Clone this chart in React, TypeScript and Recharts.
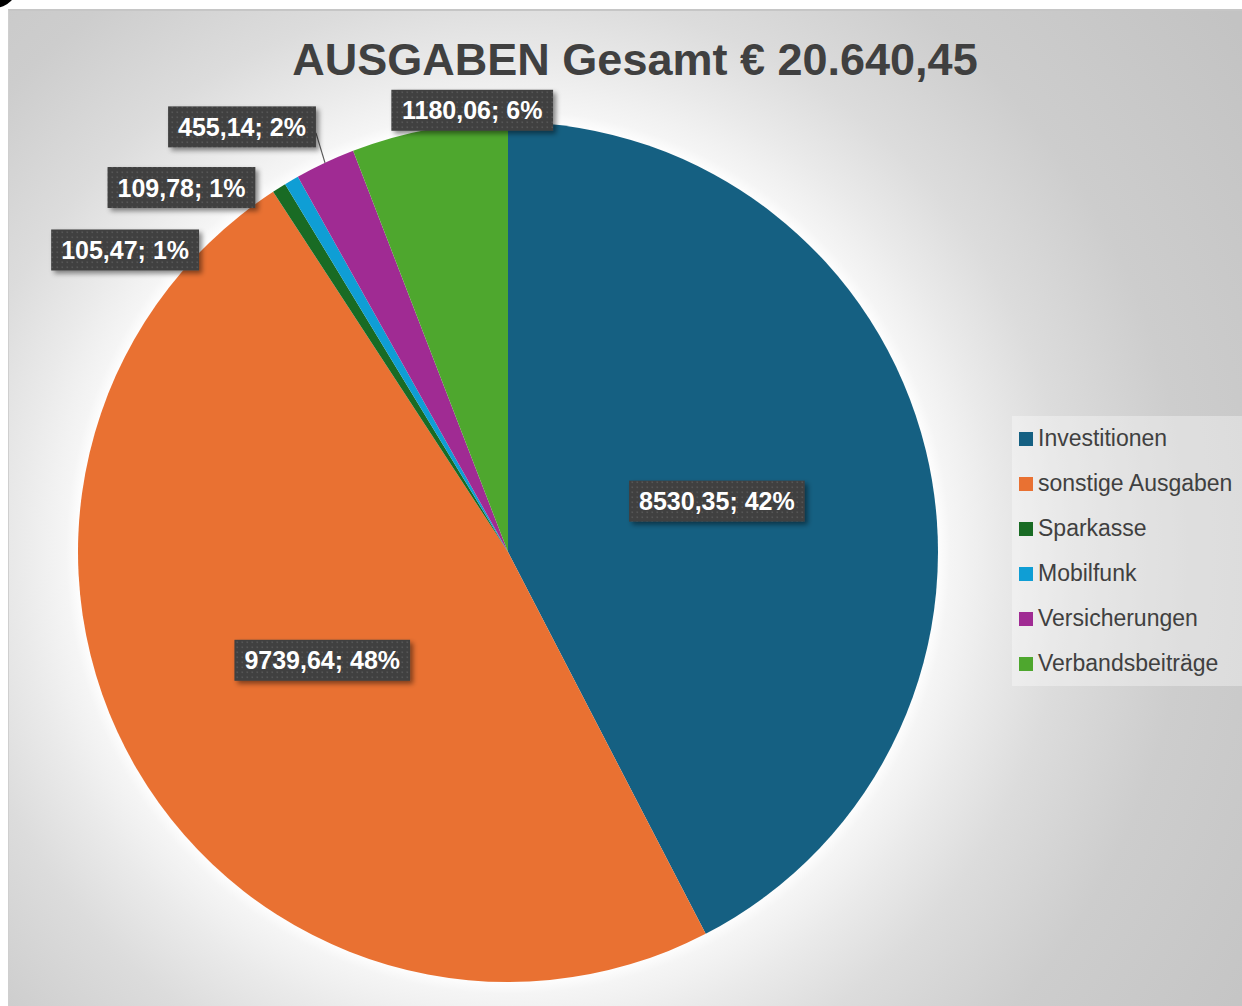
import React from 'react';
import { PieChart, Pie, Cell, Legend } from 'recharts';

const title = 'AUSGABEN Gesamt € 20.640,45';
const categories = ['Investitionen', 'sonstige Ausgaben', 'Sparkasse', 'Mobilfunk', 'Versicherungen', 'Verbandsbeiträge'];
const amounts = [8530.35, 9739.64, 105.47, 109.78, 455.14, 1180.06];
const colors = ['#156082', '#E97132', '#196B24', '#0F9ED5', '#A02B93', '#4EA72E'];

// label placement (styling): inside at fraction of radius, or offset from slice edge
const labelPlacement: any[] = [
  { inside: 0.5 },
  { inside: 0.5 },
  { dx: -154, dy: 62 },
  { dx: -110, dy: 7 },
  { dx: -83, dy: -36, leader: true },
  { dx: 43, dy: -19 },
];

const total = amounts.reduce((a, b) => a + b, 0);
const data = categories.map((name, i) => ({ name, value: amounts[i], fill: colors[i] }));

const LABEL_FONT = 25;
const charW = (c: string) => {
  if (/[0-9]/.test(c)) return 0.556;
  if (c === ',' || c === '.' || c === ' ') return 0.278;
  if (c === ';') return 0.333;
  if (c === '%') return 0.889;
  return 0.6;
};
const textWidth = (t: string) => t.split('').reduce((s, c) => s + charW(c), 0) * LABEL_FONT;

const renderLabel = (props: any) => {
  const { cx, cy, midAngle, outerRadius, index } = props;
  const RAD = Math.PI / 180;
  const p = labelPlacement[index];
  const cos = Math.cos(-midAngle * RAD);
  const sin = Math.sin(-midAngle * RAD);
  const ex = cx + outerRadius * cos;
  const ey = cy + outerRadius * sin;
  let x: number, y: number;
  if (p.inside) {
    x = cx + outerRadius * p.inside * cos;
    y = cy + outerRadius * p.inside * sin;
  } else {
    x = ex + p.dx;
    y = ey + p.dy;
  }
  const pct = Math.round((amounts[index] / total) * 100);
  const text = `${amounts[index].toFixed(2).replace('.', ',')}; ${pct}%`;
  const w = textWidth(text) + 20;
  const h = 41;
  const pid = `dots-${index}`;
  const fid = `shadow-${index}`;
  return (
    <g key={`lbl-${index}`}>
      <defs>
        <pattern id={pid} width="5" height="5" patternUnits="userSpaceOnUse">
          <rect width="5" height="5" fill="#404040" />
          <rect x="1.5" y="1.5" width="1.6" height="1.6" fill="#565656" />
        </pattern>
        <filter id={fid} x="-20%" y="-40%" width="150%" height="200%">
          <feDropShadow dx="3" dy="3" stdDeviation="2.5" floodColor="#000" floodOpacity="0.45" />
        </filter>
      </defs>
      {p.leader && (
        <line x1={ex} y1={ey} x2={x + w / 2} y2={y + 6} stroke="#5a5a5a" strokeWidth={1.2} />
      )}
      <rect x={x - w / 2} y={y - h / 2} width={w} height={h} fill={`url(#${pid})`} filter={`url(#${fid})`} />
      <text
        x={x}
        y={y + 9}
        textAnchor="middle"
        fill="#ffffff"
        fontFamily="'Liberation Sans', Arial, sans-serif"
        fontWeight="bold"
        fontSize={LABEL_FONT}
      >
        {text}
      </text>
    </g>
  );
};

const renderLegend = (props: any) => {
  const payload = [...(props.payload || [])].sort(
    (a: any, b: any) => categories.indexOf(a.value) - categories.indexOf(b.value)
  );
  return (
    <div
      style={{
        background: 'rgba(255,255,255,0.35)',
        paddingLeft: 7,
        boxSizing: 'border-box',
        height: 270,
      }}
    >
      {payload.map((entry: any, i: number) => (
        <div
          key={`leg-${i}`}
          style={{
            height: 45,
            display: 'flex',
            alignItems: 'center',
            fontFamily: "'Liberation Sans', Arial, sans-serif",
            fontSize: 23,
            color: '#404040',
            whiteSpace: 'nowrap',
          }}
        >
          <span
            style={{
              display: 'inline-block',
              width: 14,
              height: 14,
              background: entry.color,
              marginRight: 5,
            }}
          />
          <span>{entry.value}</span>
        </div>
      ))}
    </div>
  );
};

export default function App() {
  return (
    <div style={{ position: 'absolute', left: 0, top: 0, width: 1242, height: 1006, background: '#ffffff', overflow: 'hidden' }}>
      <div
        style={{
          position: 'absolute',
          left: 8,
          top: 9,
          width: 1234,
          height: 997,
          boxSizing: 'border-box',
          borderTop: '2px solid #c6c6c6',
          borderLeft: '1px solid #cfcfcf',
          background:
            'radial-gradient(circle at 499px 541px, #ffffff 0px, #ffffff 428px, #f5f5f5 442px, #eaeaea 490px, #dcdcdc 560px, #cdcdcd 680px, #c3c3c3 900px)',
        }}
      />
      <svg width={1242} height={1006} style={{ position: 'absolute', left: 0, top: 0 }}>
        <circle cx={-6} cy={-16} r={24} fill="#000000" />
        <text
          x={635}
          y={75}
          textAnchor="middle"
          fill="#404040"
          fontFamily="'Liberation Sans', Arial, sans-serif"
          fontWeight="bold"
          fontSize={45}
        >
          {title}
        </text>
      </svg>
      <div style={{ position: 'absolute', left: 0, top: 0 }}>
        <PieChart width={1242} height={1006} margin={{ top: 0, right: 0, bottom: 0, left: 0 }}>
          <Pie
            data={data}
            dataKey="value"
            nameKey="name"
            cx={508}
            cy={552}
            outerRadius={430}
            startAngle={90}
            endAngle={-270}
            stroke="none"
            label={renderLabel}
            labelLine={false}
            isAnimationActive={false}
          >
            {data.map((d, i) => (
              <Cell key={`cell-${i}`} fill={colors[i]} />
            ))}
          </Pie>
          <Legend
            layout="vertical"
            align="right"
            verticalAlign="top"
            content={renderLegend}
            wrapperStyle={{ left: 1012, top: 416, width: 230, height: 270 }}
          />
        </PieChart>
      </div>
    </div>
  );
}
